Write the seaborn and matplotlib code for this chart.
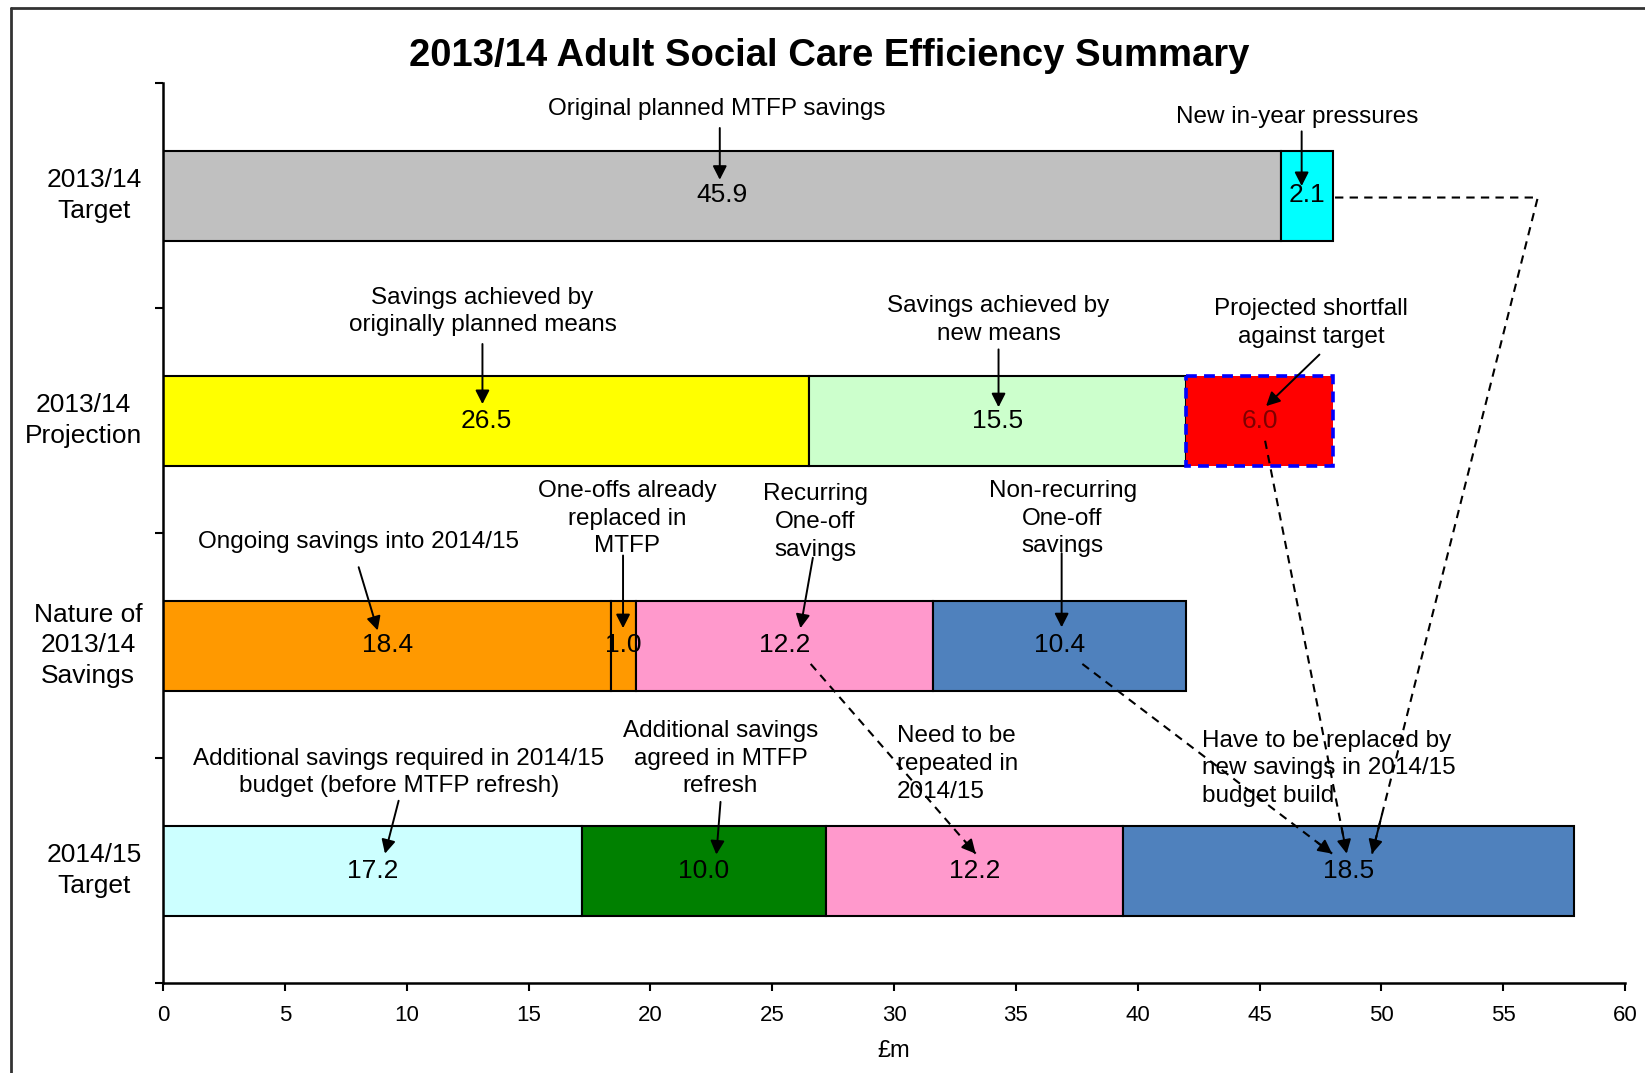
import matplotlib
matplotlib.use("Agg")
import matplotlib.pyplot as plt
from matplotlib.lines import Line2D
import pandas as pd
import seaborn as sns

# ---------------- data ----------------
categories = ["2013/14\nTarget", "2013/14\nProjection",
              "Nature of\n2013/14\nSavings", "2014/15\nTarget"]
target_1314 = [45.9, 2.1]
projection_1314 = [26.5, 15.5, 6.0]
nature_1314 = [18.4, 1.0, 12.2, 10.4]
target_1415 = [17.2, 10.0, 12.2, 18.5]
x_ticks = [0, 5, 10, 15, 20, 25, 30, 35, 40, 45, 50, 55, 60]
x_label = "£m"
title = "2013/14 Adult Social Care Efficiency Summary"

note_texts = [
    "Original planned MTFP savings",
    "New in-year pressures",
    "Savings achieved by\noriginally planned means",
    "Savings achieved by\nnew means",
    "Projected shortfall\nagainst target",
    "Ongoing savings into 2014/15",
    "One-offs already\nreplaced in\nMTFP",
    "Recurring\nOne-off\nsavings",
    "Non-recurring\nOne-off\nsavings",
    "Additional savings required in 2014/15\nbudget (before MTFP refresh)",
    "Additional savings\nagreed in MTFP\nrefresh",
]
side_texts = ["Need to be\nrepeated in\n2014/15",
              "Have to be replaced by\nnew savings in 2014/15\nbudget build"]

# ---------------- style ----------------
target_1314_colors = ["#C0C0C0", "#00FFFF"]
projection_1314_colors = ["#FFFF00", "#CCFFCC", "#FF0000"]
nature_1314_colors = ["#FF9900", "#FF9900", "#FF99CC", "#4F81BD"]
target_1415_colors = ["#CCFFFF", "#008000", "#FF99CC", "#4F81BD"]

# note layout: (text pos, arrow start, arrow end)
note_layout = [
    ((22.71, -0.385), (22.85, -0.300), (22.85, -0.070)),
    ((46.56, -0.350), (46.73, -0.285), (46.73, -0.042)),
    ((13.11, 0.515), (13.11, 0.660), (13.11, 0.927)),
    ((34.29, 0.552), (34.29, 0.684), (34.29, 0.941)),
    ((47.12, 0.566), (47.46, 0.707), (45.27, 0.936)),
    ((8.03, 1.540), (8.03, 1.652), (8.81, 1.933)),
    ((19.05, 1.437), (18.88, 1.600), (18.88, 1.923)),
    ((26.76, 1.451), (26.67, 1.610), (26.16, 1.923)),
    ((36.92, 1.437), (36.88, 1.590), (36.88, 1.919)),
    ((9.67, 2.564), (9.67, 2.690), (9.11, 2.925)),
    ((22.88, 2.503), (22.88, 2.695), (22.71, 2.929)),
]
side_layout = [(30.11, 2.527), (42.64, 2.546)]
dashed_paths = [
    [(26.58, 2.082), (33.35, 2.925)],
    [(37.73, 2.082), (47.98, 2.925)],
    [(45.23, 1.090), (48.58, 2.925)],
    [(48.10, 0.009), (56.42, 0.009), (49.62, 2.925)],
]

sns.set_theme(style="ticks")
plt.rcParams["font.family"] = ["Liberation Sans", "DejaVu Sans"]
plt.rcParams["text.color"] = "black"
plt.rcParams["axes.labelcolor"] = "black"
plt.rcParams["xtick.color"] = "black"
plt.rcParams["ytick.color"] = "black"

fig = plt.figure(figsize=(16.45, 10.73), dpi=100)
ax = fig.add_axes([163 / 1645, 1 - 983 / 1073, (1625 - 163) / 1645, (983 - 83) / 1073])

rows = [
    (categories[0], target_1314, target_1314_colors),
    (categories[1], projection_1314, projection_1314_colors),
    (categories[2], nature_1314, nature_1314_colors),
    (categories[3], target_1415, target_1415_colors),
]

records = []
for cat, vals, cols in rows:
    start = 0.0
    for v, c in zip(vals, cols):
        records.append(dict(category=cat, value=v, start=start, color=c))
        start += v
df = pd.DataFrame(records)

for _, r in df.iterrows():
    special = r["color"] == "#FF0000"
    sns.barplot(x=[r["value"]], y=[r["category"]], order=categories, orient="h",
                left=r["start"], color=r["color"], saturation=1, width=0.4,
                edgecolor="#0000FF" if special else "black",
                linewidth=2.6 if special else 1.5,
                linestyle=(0, (3, 2)) if special else "-",
                ax=ax, zorder=2)
    yi = categories.index(r["category"])
    ax.text(r["start"] + r["value"] / 2, yi, f"{r['value']:.1f}",
            ha="center", va="center", fontsize=19,
            color="#7F0000" if special else "black", zorder=5)

arrow_kw = dict(arrowstyle="-|>,head_length=0.55,head_width=0.28",
                color="black", lw=1.4, shrinkA=0, shrinkB=0, mutation_scale=15)

# notes with solid arrows
for txt, (tpos, a0, a1) in zip(note_texts, note_layout):
    ax.text(tpos[0], tpos[1], txt, ha="center", va="center",
            multialignment="center", fontsize=17.5, zorder=6, linespacing=1.33)
    ax.annotate("", xy=a1, xytext=a0, arrowprops=arrow_kw, zorder=6)

for txt, pos in zip(side_texts, side_layout):
    ax.text(pos[0], pos[1], txt, ha="left", va="center", fontsize=17.5,
            zorder=6, linespacing=1.33)

# dashed connectors
for path in dashed_paths:
    xs = [p[0] for p in path]
    ys = [p[1] for p in path]
    ax.plot(xs, ys, color="black", lw=1.5, ls=(0, (4, 3)), zorder=7)
    (xa, ya), (xb, yb) = path[-2], path[-1]
    xm = xb - (xb - xa) * 0.06
    ym = yb - (yb - ya) * 0.06
    ax.annotate("", xy=(xb, yb), xytext=(xm, ym), arrowprops=arrow_kw, zorder=7)

# axes styling
ax.set_xlim(0, 60)
ax.set_ylim(3.5, -0.5)
ax.set_xticks(x_ticks)
ax.set_xticklabels([str(t) for t in x_ticks], fontsize=16)
ax.set_xlabel(x_label, fontsize=17, labelpad=10)
ax.set_ylabel("")
ax.set_yticks(range(len(categories)))
ax.set_yticklabels(categories, fontsize=19)
for t in ax.get_yticklabels():
    t.set_multialignment("center")
    t.set_linespacing(1.35)
    t.set_va("center")
ax.set_yticks([-0.5, 0.5, 1.5, 2.5, 3.5], minor=True)
ax.tick_params(axis="y", which="major", length=0, pad=15)
ax.tick_params(axis="y", which="minor", length=6, width=1.5, direction="out", color="black")
ax.tick_params(axis="x", which="major", length=6, width=1.5, direction="out",
               color="black", pad=10)
for s in ["top", "right"]:
    ax.spines[s].set_visible(False)
for s in ["left", "bottom"]:
    ax.spines[s].set_linewidth(1.8)
    ax.spines[s].set_color("black")
ax.set_facecolor("white")
ax.grid(False)

fig.text(0.504, 1 - 56 / 1073, title, ha="center", va="center",
         fontsize=27.5, fontweight="bold", color="black")

# chart frame
fig.add_artist(Line2D([11 / 1645, 11 / 1645], [0, 1 - 8 / 1073],
                      transform=fig.transFigure, color="#333333", lw=2))
fig.add_artist(Line2D([11 / 1645, 1], [1 - 8 / 1073, 1 - 8 / 1073],
                      transform=fig.transFigure, color="#333333", lw=2))

fig.savefig("out.png", dpi=100)
